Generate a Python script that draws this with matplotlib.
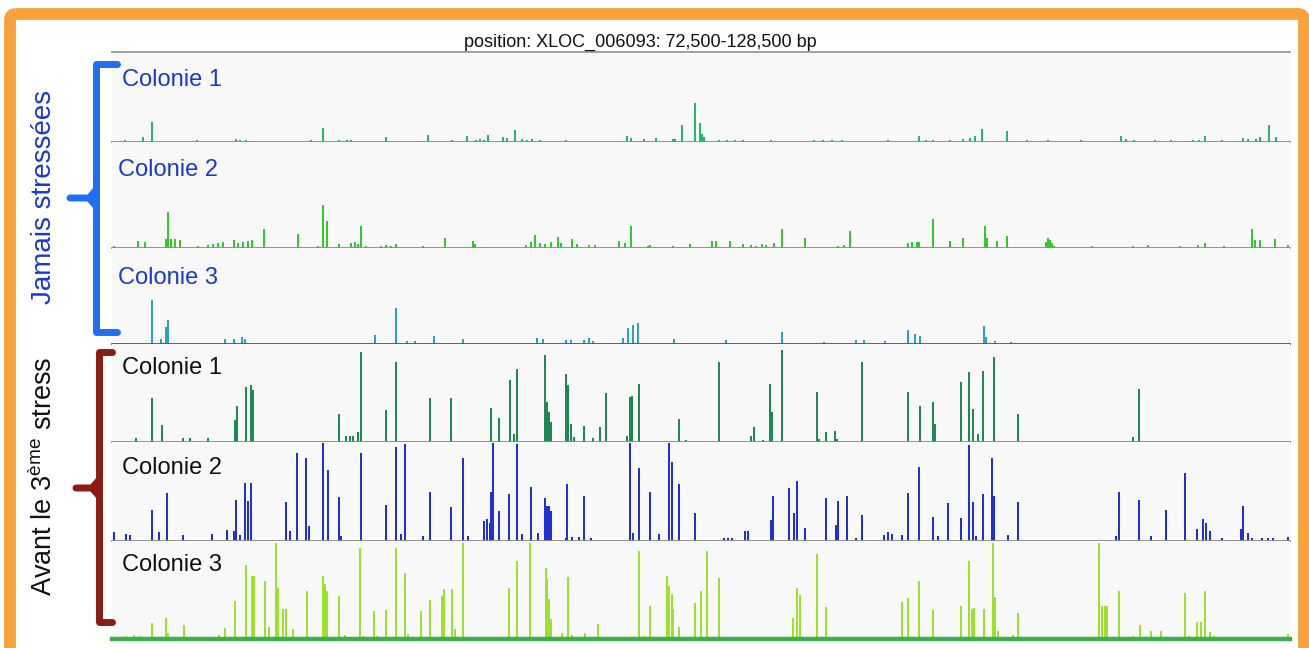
import numpy as np
import matplotlib.pyplot as plt
from matplotlib.patches import FancyBboxPatch

plt.rcParams['font.family'] = ['Liberation Sans', 'DejaVu Sans']
plt.rcParams['mathtext.fontset'] = 'custom'
plt.rcParams['mathtext.rm'] = 'Liberation Sans'

# genome window shown by the browser
START_BP, END_BP = 72500, 128500
N_BINS = 1178
BIN_BP = (END_BP - START_BP) / N_BINS

# coverage per bin: (bin index, reads)
jamais_c1 = [(13,2),(31,5),(40,20),(85,2),(124,3),(128,2),(134,2),(199,2),(211,14),(227,2),
             (235,2),(239,2),(274,5),(316,7),(340,2),(355,6),(364,2),(368,3),(372,2),(376,7),
             (391,5),(395,4),(403,12),(410,3),(415,2),(420,3),(428,2),(454,2),(515,6),(519,4),
             (532,3),(544,4),(561,3),(563,3),(570,17),(583,39),(588,19),(590,8),(592,5),(607,2),
             (615,2),(623,2),(631,2),(659,2),(702,2),(711,2),(720,2),(730,2),(776,2),(807,6),
             (814,2),(821,2),(838,2),(851,3),(858,4),(863,6),(870,13),(895,11),(915,2),(936,2),
             (969,2),(1009,6),(1014,3),(1022,2),(1043,2),(1059,2),(1081,2),(1087,2),(1093,6),
             (1110,2),(1131,4),(1136,3),(1144,3),(1148,5),(1157,17),(1164,5)]

jamais_c2 = [(2,2),(26,7),(33,6),(54,9),(56,36),(59,9),(63,9),(68,8),(86,2),(96,3),(101,4),
             (106,5),(111,6),(122,8),(126,5),(131,6),(136,7),(140,8),(152,19),(186,14),(206,2),
             (211,43),(215,27),(227,4),(239,5),(243,6),(246,4),(249,22),(254,2),(269,2),(274,3),
             (279,2),(284,4),(311,2),(333,10),(361,7),(363,4),(414,3),(419,6),(423,13),(428,5),
             (433,4),(439,6),(446,11),(449,5),(460,9),(465,4),(477,3),(483,3),(507,7),(513,5),
             (519,22),(536,2),(538,3),(561,2),(578,4),(600,7),(604,7),(618,7),(631,4),(639,3),
             (644,2),(650,4),(654,3),(662,5),(670,19),(693,10),(726,2),(732,3),(738,17),(796,5),
             (800,6),(805,6),(807,6),(821,29),(838,7),(851,10),(873,22),(875,10),(885,7),(895,12),
             (934,6),(936,10),(938,8),(940,5),(942,2),(980,2),(1021,2),(1036,3),(1068,2),(1086,3),
             (1093,5),(1112,2),(1140,19),(1143,8),(1148,8),(1163,9),(1176,3)]

jamais_c3 = [(40,44),(49,5),(54,17),(56,24),(113,5),(122,5),(130,7),(133,5),(263,9),(284,36),
             (295,3),(303,3),(322,8),(351,5),(425,6),(431,5),(454,4),(459,4),(472,4),(477,6),
             (481,3),(511,6),(516,16),(521,19),(526,21),(562,5),(614,4),(670,12),(712,2),(744,4),
             (752,4),(773,3),(796,14),(803,10),(808,8),(872,18),(874,7),(883,3),(899,2)]

avant_c1 = [(24,4),(40,44),(50,17),(71,4),(78,4),(96,4),(123,22),(125,36),(134,55),(139,57),
            (141,52),(227,28),(234,6),(238,6),(241,6),(246,10),(249,90),(274,32),(284,80),
            (318,44),(339,44),(379,34),(387,24),(398,62),(402,8),(405,73),(433,87),(435,40),
            (437,30),(439,20),(454,68),(456,57),(459,18),(462,5),(472,16),(481,4),(488,15),
            (494,49),(515,6),(518,45),(520,46),(527,58),(567,23),(574,2),(607,80),(639,6),
            (642,15),(651,2),(658,58),(660,30),(670,92),(705,50),(707,3),(714,10),(723,11),
            (725,3),(750,80),(796,50),(808,36),(821,40),(823,18),(849,60),(857,70),(861,33),
            (866,8),(871,71),(882,85),(906,28),(1021,5),(1027,53)]

avant_c2 = [(2,9),(14,7),(18,6),(40,31),(47,9),(55,48),(71,6),(100,7),(115,11),(122,10),
            (124,41),(128,6),(133,58),(136,40),(139,58),(174,39),(178,10),(185,88),(194,83),
            (197,15),(211,98),(216,71),(227,44),(229,5),(249,88),(274,36),(284,94),(289,7),
            (293,97),(311,5),(318,49),(339,34),(351,83),(356,5),(372,20),(375,22),(378,18),
            (379,49),(381,98),(387,30),(397,47),(405,97),(410,7),(419,54),(426,8),(433,43),
            (435,35),(437,35),(439,30),(454,3),(455,57),(460,4),(467,4),(472,45),(479,3),
            (518,98),(521,8),(527,73),(538,49),(547,7),(557,98),(560,79),(567,57),(583,28),
            (612,3),(616,3),(620,3),(633,10),(636,10),(659,21),(661,45),(677,53),(682,28),
            (685,60),(693,13),(714,43),(724,16),(726,40),(735,45),(744,3),(750,26),(772,6),
            (776,9),(780,7),(790,6),(796,48),(807,74),(821,24),(826,5),(836,38),(849,23),
            (857,96),(861,39),(864,5),(871,47),(880,83),(882,45),(896,6),(906,39),(1004,5),
            (1007,49),(1027,41),(1039,5),(1054,31),(1073,68),(1085,12),(1091,22),(1094,18),
            (1098,10),(1110,3),(1129,12),(1131,35),(1136,8),(1140,3),(1150,3),(1156,3),
            (1161,3),(1176,4)]

avant_c3 = [(14,3),(22,4),(28,3),(40,16),(54,21),(56,6),(72,14),(90,2),(98,2),(107,4),
            (113,11),(123,38),(134,74),(140,63),(142,63),(153,58),(157,12),(164,96),(166,51),
            (171,30),(174,30),(181,10),(195,48),(208,2),(211,63),(213,55),(215,48),(227,43),
            (233,4),(248,91),(252,3),(262,28),(265,3),(274,29),(284,91),(293,66),(296,5),
            (309,28),(318,39),(330,43),(332,50),(340,50),(343,10),(351,96),(397,51),(405,78),
            (418,96),(434,71),(435,60),(437,40),(439,20),(450,6),(456,62),(460,4),(473,6),
            (486,15),(527,88),(532,3),(538,33),(555,63),(557,53),(560,45),(561,30),(567,12),
            (574,2),(583,36),(589,48),(595,88),(607,61),(681,21),(685,51),(688,44),(705,85),
            (714,32),(719,2),(790,37),(796,41),(807,58),(821,29),(849,33),(857,78),(860,30),
            (862,31),(872,30),(881,96),(883,42),(886,8),(901,4),(906,26),(987,96),(990,33),
            (993,33),(995,33),(1007,48),(1021,3),(1028,14),(1039,8),(1049,8),(1073,46),
            (1077,3),(1085,17),(1089,17),(1093,48),(1098,7),(1102,3),(1176,5)]

tracks = [jamais_c1, jamais_c2, jamais_c3, avant_c1, avant_c2, avant_c3]
track_names = ['Colonie 1', 'Colonie 2', 'Colonie 3', 'Colonie 1', 'Colonie 2', 'Colonie 3']
track_colors = ['#25b86c', '#35c72f', '#2aa3bd', '#1d8a55', '#2230d8', '#9be22c']
track_scale = [90, 106, 96, 98, 99, 98]

W, H = 1309, 648
fig = plt.figure(figsize=(W / 100, H / 100), dpi=100)
fig.patch.set_facecolor('white')

# track rows in pixels (top, baseline)
rows = [(52, 142), (142, 248), (248, 344), (344, 442), (442, 541), (541, 639)]
x0, x1 = 112, 1290

for i, (data, col, ymax) in enumerate(zip(tracks, track_colors, track_scale)):
    top, base = rows[i]
    ax = fig.add_axes([x0 / W, 1 - base / H, (x1 - x0) / W, (base - top) / H])
    ax.set_facecolor('#f8f8f8')
    bins = np.array([d[0] for d in data])
    cov = np.array([d[1] for d in data])
    ax.bar(START_BP + bins * BIN_BP, cov, width=2.2 * BIN_BP, color=col, linewidth=0)
    ax.set_xlim(START_BP, END_BP)
    ax.set_ylim(0, ymax)
    ax.set_xticks([])
    ax.set_yticks([])
    for s in ['left', 'right', 'top']:
        ax.spines[s].set_visible(False)
    ax.spines['bottom'].set_color('#8a8a8a')
    ax.spines['bottom'].set_linewidth(1.3)
    if i == 0:
        ax.spines['top'].set_visible(True)
        ax.spines['top'].set_color('#9a9a9a')
        ax.spines['top'].set_linewidth(1.3)
    if i == 2:
        ax.spines['bottom'].set_color('#555555')
    if i == 5:
        ax.spines['bottom'].set_color('#3db04b')
        ax.spines['bottom'].set_linewidth(3.2)

# overlay for labels, braces and frame
ov = fig.add_axes([0, 0, 1, 1], zorder=10)
ov.set_xlim(0, W)
ov.set_ylim(H, 0)
ov.axis('off')
ov.patch.set_alpha(0)

ov.add_patch(FancyBboxPatch((10, 14), 1294, 700, boxstyle='round,pad=0,rounding_size=6',
                            fill=False, ec='#f9a23c', lw=8.5, clip_on=False))

ov.text(640, 42, 'position: XLOC_006093: 72,500-128,500 bp', ha='center', va='center',
        fontsize=13, color='#111111')

label_xy = [(122, 80), (118, 170), (118, 278), (122, 368), (122, 468), (122, 565)]
for k, (name, (lx, ly)) in enumerate(zip(track_names, label_xy)):
    ov.text(lx, ly, name, ha='left', va='center', fontsize=17,
            color='#1b3acc' if k < 3 else '#111111')

# braces
blue = '#1f6ff0'
ov.plot([117, 96, 96, 117], [64, 64, 332, 332], color=blue, lw=5,
        solid_joinstyle='round', solid_capstyle='round')
ov.plot([70, 89, 96], [198, 198, 190], color=blue, lw=5, solid_capstyle='round')
ov.plot([89, 96], [198, 206], color=blue, lw=5, solid_capstyle='round')

red = '#8c1c13'
ov.plot([112, 99, 99, 112], [352, 352, 622, 622], color=red, lw=5,
        solid_joinstyle='round', solid_capstyle='round')
ov.plot([76, 92, 99], [488, 488, 480], color=red, lw=5, solid_capstyle='round')
ov.plot([92, 99], [488, 496], color=red, lw=5, solid_capstyle='round')

ov.text(44, 197, 'Jamais stressées', rotation=90, ha='center', va='center',
        fontsize=20, color='#1b3acc')
ov.text(44, 476, 'Avant le 3$^{\\mathrm{ème}}$ stress', rotation=90, ha='center',
        va='center', fontsize=19.5, color='#111111')

fig.savefig('out.png', dpi=100)
